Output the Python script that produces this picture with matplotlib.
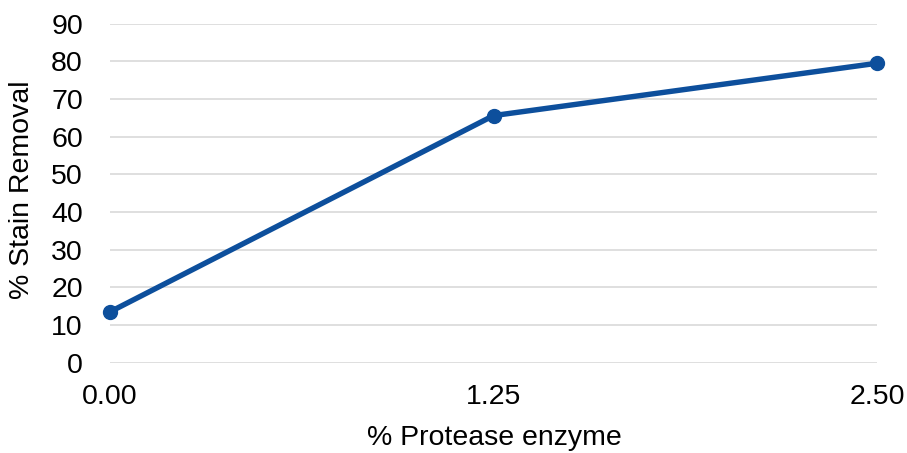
import matplotlib
matplotlib.use("Agg")
import matplotlib.pyplot as plt

categories = ["0.00", "1.25", "2.50"]
stain_removal = [13.5, 65.6, 79.5]
y_ticks = [0, 10, 20, 30, 40, 50, 60, 70, 80, 90]

plt.rcParams['font.family'] = ['Liberation Sans', 'DejaVu Sans']

fig = plt.figure(figsize=(9.07, 4.53), dpi=100)
ax = fig.add_axes([110/907, 1-362.7/453, (877-110)/907, (362.7-23.7)/453])

x = list(range(len(categories)))
ax.plot(x, stain_removal, color="#0D4F9C", linewidth=3.9, marker="o",
        markersize=10, solid_capstyle="round", zorder=3, clip_on=False)

ax.set_xlim(0, len(categories) - 1)
ax.set_ylim(0, 90)
ax.set_yticks(y_ticks)
ax.set_xticks(x)
ax.set_xticklabels(categories)
ax.grid(axis="y", color="#D9D9D9", linewidth=1.2)
ax.set_axisbelow(True)
for s in ax.spines.values():
    s.set_visible(False)
ax.tick_params(axis="both", length=0, labelsize=20.5, colors="black")
ax.tick_params(axis="y", pad=19.5)
ax.tick_params(axis="x", pad=15)

fig.text(494/907, 1-438/453, "% Protease enzyme", ha="center", va="center", fontsize=20.5)
fig.text(22/907, 1-190/453, "% Stain Removal", ha="center", va="center", rotation=90, fontsize=20.5)

fig.savefig("out.png", dpi=100)
